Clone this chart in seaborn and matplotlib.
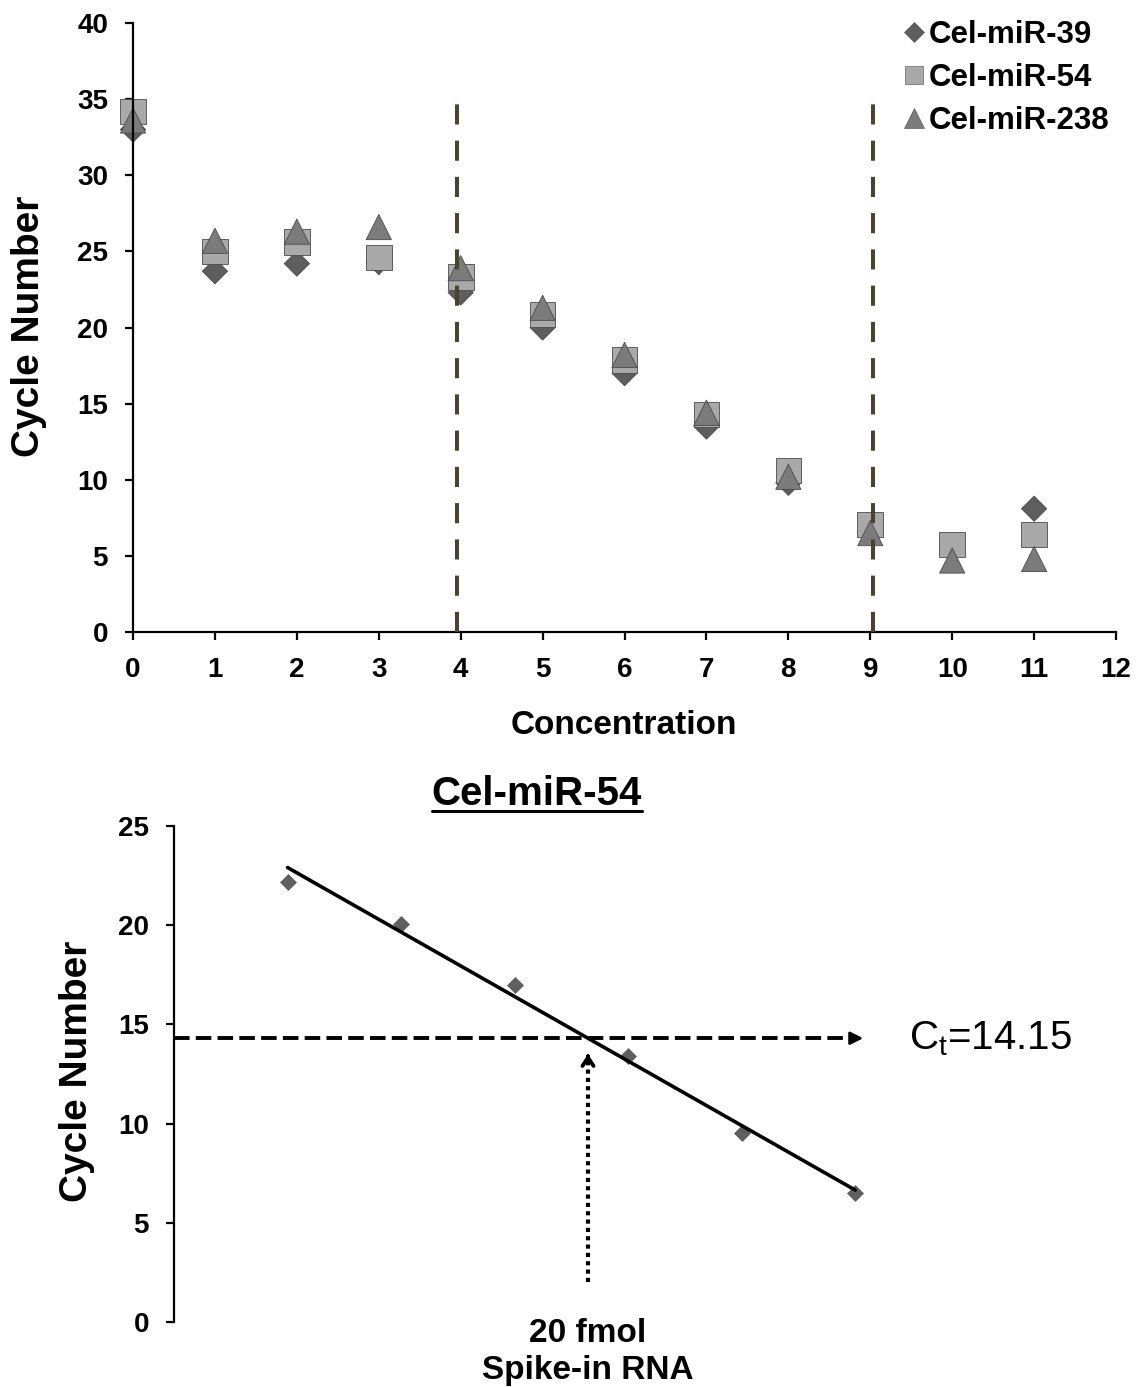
import numpy as np
import pandas as pd
import seaborn as sns
import matplotlib.pyplot as plt
from matplotlib.lines import Line2D

# top panel: Ct of the three spike-ins over the dilution series
concentration = list(range(12))
mir39 = [33.0, 23.7, 24.2, 24.3, 22.3, 20.0, 17.0, 13.5, 9.8, 6.6, 5.4, 8.1]
mir54 = [34.2, 25.0, 25.6, 24.6, 23.3, 20.85, 17.85, 14.3, 10.6, 7.06, 5.75, 6.4]
mir238 = [33.6, 25.7, 26.3, 26.6, 23.9, 21.3, 18.2, 14.4, 10.2, 6.5, 4.7, 4.8]
series_names = ['Cel-miR-39', 'Cel-miR-54', 'Cel-miR-238']
linear_range = [3.96, 9.03]

# bottom panel: Cel-miR-54 standard curve
curve_conc = [4, 5, 6, 7, 8, 9]
curve_ct = [22.2, 20.06, 17.0, 13.4, 9.5, 6.5]
ct_value = 14.15
ct_line = 14.3

sns.set_style('ticks')
plt.rcParams['font.family'] = ['Liberation Sans', 'DejaVu Sans']
plt.rcParams['font.weight'] = 'bold'
plt.rcParams['mathtext.fontset'] = 'custom'
plt.rcParams['mathtext.rm'] = 'Liberation Sans'
plt.rcParams['mathtext.bf'] = 'Liberation Sans:bold'
for key in ['text.color', 'axes.labelcolor', 'xtick.color', 'ytick.color', 'axes.edgecolor']:
    plt.rcParams[key] = 'black'

colors = {'Cel-miR-39': '#5e5e5e', 'Cel-miR-54': '#a9a9a9', 'Cel-miR-238': '#7b7b7b'}
markers = {'Cel-miR-39': 'D', 'Cel-miR-54': 's', 'Cel-miR-238': '^'}
sizes = {'Cel-miR-39': 165, 'Cel-miR-54': 340, 'Cel-miR-238': 330}

df = pd.DataFrame({
    'Concentration': concentration * 3,
    'Cycle Number': mir39 + mir54 + mir238,
    'Series': [s for s in series_names for _ in concentration],
})

fig = plt.figure(figsize=(11.45, 13.87), dpi=100)
ax1 = fig.add_axes([0.1162, 0.5443, 0.8585, 0.4391])
ax2 = fig.add_axes([0.152, 0.0469, 0.694, 0.3576])

sns.scatterplot(data=df, x='Concentration', y='Cycle Number', hue='Series',
                style='Series', size='Series', palette=colors, markers=markers,
                sizes=sizes, edgecolor='#4a4a4a', linewidth=0.6,
                legend=False, clip_on=False, ax=ax1)

for xv in linear_range:
    ax1.plot([xv, xv], [0, 35], color='#4a4330', lw=2.9,
             dashes=(5.0, 4.0), zorder=5)

ax1.set_xlim(0, 12)
ax1.set_ylim(0, 40)
ax1.set_xticks(range(0, 13))
ax1.set_yticks(range(0, 41, 5))
sns.despine(ax=ax1)
for sp in ax1.spines.values():
    sp.set_linewidth(1.6)
ax1.tick_params(length=6, width=1.6, labelsize=20, pad=12)
ax1.set_xlabel('Concentration', fontsize=24, fontweight='bold')
ax1.set_ylabel('Cycle Number', fontsize=28, fontweight='bold')
ax1.xaxis.set_label_coords(0.4995, -0.128)
ax1.yaxis.set_label_coords(-0.088, 0.502)

handles = [Line2D([], [], linestyle='', marker=markers[s], color=colors[s],
                  markersize=ms, markeredgecolor='#4a4a4a', markeredgewidth=0.4)
           for s, ms in zip(series_names, [10, 13, 15])]
ax1.legend(handles, series_names, loc='upper left', bbox_to_anchor=(0.783, 1.005),
           frameon=False, fontsize=22.5, handlelength=0.7, handletextpad=0.12,
           labelspacing=0.42, borderpad=0, borderaxespad=0)

# standard curve
sns.regplot(x=curve_conc, y=curve_ct, ax=ax2, ci=None, truncate=True, marker='D',
            scatter_kws={'color': '#5f5f5f', 's': 75, 'linewidths': 0, 'alpha': 1},
            line_kws={'color': 'black', 'lw': 2.6})
slope, intercept = np.polyfit(curve_conc, curve_ct, 1)
spike_x = (ct_line - intercept) / slope

ax2.set_xlim(3, 10)
ax2.set_ylim(0, 25)
ax2.set_yticks(range(0, 26, 5))
ax2.set_xticks([])
sns.despine(ax=ax2, bottom=True)
ax2.spines['left'].set_linewidth(1.6)
ax2.tick_params(axis='y', length=6, width=1.6, labelsize=20, pad=12)
ax2.set_ylabel('Cycle Number', fontsize=28, fontweight='bold')
ax2.yaxis.set_label_coords(-0.1, 0.506)

# Ct dashed arrow
ax2.plot([3, 9.0], [ct_line, ct_line], color='black', lw=2.8,
         dashes=(4.0, 1.6), clip_on=False)
ax2.annotate('', xy=(9.07, ct_line), xytext=(8.99, ct_line),
             arrowprops=dict(arrowstyle='-|>,head_length=0.75,head_width=0.38',
                             color='black', lw=2, shrinkA=0, shrinkB=0),
             annotation_clip=False)
ax2.text(9.47, ct_line, 'C$_\\mathregular{t}$=14.15', fontsize=29,
         fontweight='normal', va='center', ha='left')

# spike-in dotted arrow
ax2.plot([spike_x, spike_x], [2.0, 13.2], color='black', lw=3.0,
         dashes=(1, 1))
ax2.annotate('', xy=(spike_x, 13.5), xytext=(spike_x, 13.35),
             arrowprops=dict(arrowstyle='->,head_length=0.6,head_width=0.4',
                             color='black', lw=2.8, shrinkA=0, shrinkB=0))
ax2.text(spike_x, 0.2, '20 fmol\nSpike-in RNA', ha='center', va='top',
         fontsize=24, fontweight='bold', linespacing=1.25)

title = fig.text(0.469, 1 - 805 / 1387, 'Cel-miR-54', ha='center', va='baseline',
                 fontsize=29, fontweight='bold')
fig.canvas.draw()
bb = title.get_window_extent().transformed(fig.transFigure.inverted())
uy = 1 - 811 / 1387
fig.add_artist(Line2D([bb.x0, bb.x1], [uy, uy], transform=fig.transFigure,
                      color='black', lw=2.2))

fig.savefig('out.png', dpi=100)
